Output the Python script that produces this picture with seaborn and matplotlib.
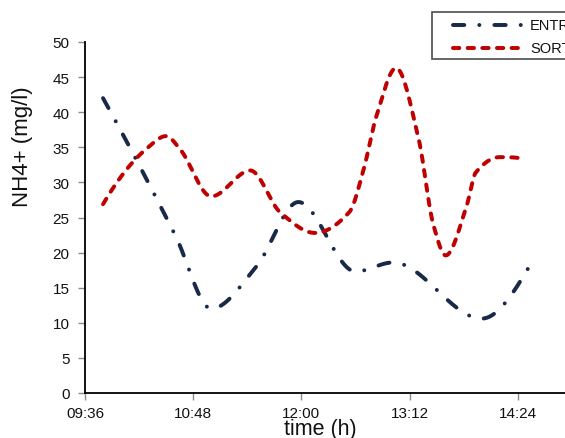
import numpy as np
import pandas as pd
import matplotlib
matplotlib.use("Agg")
import matplotlib.pyplot as plt
import seaborn as sns
from matplotlib.lines import Line2D
from matplotlib.patches import Rectangle
from matplotlib.ticker import FuncFormatter, FixedLocator

# ---- data (time of day, NH4+ mg/l) ----
entree_times = ["09:48", "10:36", "11:00", "11:30", "11:58", "12:36", "13:01", "14:00", "14:31"]
entree_values = [42.0, 22.5, 12.0, 18.0, 27.2, 17.3, 18.6, 10.6, 17.8]

sortie_times = ["09:48", "10:17", "10:30", "10:39", "11:00", "11:26", "11:46", "12:09",
                "12:32", "12:41", "12:50", "13:03", "13:18", "13:28", "13:36", "13:50",
                "13:56", "14:12", "14:29"]
sortie_values = [26.9, 34.8, 36.6, 34.8, 28.0, 31.7, 25.7, 22.8,
                 25.8, 31.5, 39.5, 46.3, 36.2, 23.8, 19.6, 26.7,
                 31.4, 33.6, 33.3]

tick_labels = ["09:36", "10:48", "12:00", "13:12", "14:24", "15:36"]
series_names = ["ENTREE", "SORTIE"]
y_ticks = list(range(0, 51, 5))


def to_min(s):
    h, m = s.split(":")
    return int(h) * 60 + int(m)


def pchip(x, y, xs):
    """Monotone cubic (smoothed line rendering)."""
    x = np.asarray(x, float); y = np.asarray(y, float)
    h = np.diff(x); d = np.diff(y) / h
    n = len(x); m = np.zeros(n)
    for k in range(1, n - 1):
        if d[k - 1] * d[k] > 0:
            w1 = 2 * h[k] + h[k - 1]; w2 = h[k] + 2 * h[k - 1]
            m[k] = (w1 + w2) / (w1 / d[k - 1] + w2 / d[k])

    def endp(h0, h1, d0, d1):
        v = ((2 * h0 + h1) * d0 - h0 * d1) / (h0 + h1)
        if np.sign(v) != np.sign(d0):
            v = 0.0
        elif np.sign(d0) != np.sign(d1) and abs(v) > abs(3 * d0):
            v = 3 * d0
        return v
    m[0] = endp(h[0], h[1], d[0], d[1])
    m[-1] = endp(h[-1], h[-2], d[-1], d[-2])
    idx = np.clip(np.searchsorted(x, xs) - 1, 0, n - 2)
    t = (xs - x[idx]) / h[idx]
    h00 = 2 * t**3 - 3 * t**2 + 1; h10 = t**3 - 2 * t**2 + t
    h01 = -2 * t**3 + 3 * t**2; h11 = t**3 - t**2
    return h00 * y[idx] + h10 * h[idx] * m[idx] + h01 * y[idx + 1] + h11 * h[idx] * m[idx + 1]


frames = []
for name, times, vals in [("ENTREE", entree_times, entree_values),
                          ("SORTIE", sortie_times, sortie_values)]:
    tx = np.array([to_min(t) for t in times], float)
    xs = np.linspace(tx[0], tx[-1], 600)
    frames.append(pd.DataFrame({"t": xs, "v": pchip(tx, vals, xs), "serie": name}))
df = pd.concat(frames, ignore_index=True)

sns.set_theme(style="white")
plt.rcParams["font.family"] = ["Liberation Sans", "DejaVu Sans"]

W, H = 565, 439
fig = plt.figure(figsize=(W / 100, H / 100), dpi=100)
ax = fig.add_axes([85 / W, 45 / H, 541 / W, 351 / H])

blue = "#182A48"
red = "#C00000"
LW = 2.85
styles = {"ENTREE": (blue, (2.85, 3.8, 0.01, 3.8)), "SORTIE": (red, (1.6, 2.1))}

for name in series_names:
    sub = df[df["serie"] == name]
    col, dash = styles[name]
    sns.lineplot(data=sub, x="t", y="v", ax=ax, color=col, linewidth=LW,
                 estimator=None, sort=False, legend=False)
    ln = ax.lines[-1]
    ln.set_dashes(dash)
    ln.set_dash_capstyle("round")
    ln.set_solid_capstyle("round")

ax.set_xlim(to_min("09:36"), to_min("15:36"))
ax.set_ylim(0, 50)
ax.xaxis.set_major_locator(FixedLocator([to_min(t) for t in tick_labels]))
ax.xaxis.set_major_formatter(FuncFormatter(lambda v, p: "%02d:%02d" % divmod(int(round(v)), 60)))
ax.set_yticks(y_ticks)

for side in ["top", "right"]:
    ax.spines[side].set_visible(False)
for side in ["left", "bottom"]:
    ax.spines[side].set_color("black")
    ax.spines[side].set_linewidth(1.3)

ax.tick_params(axis="both", which="major", direction="out", length=5, width=1,
               color="#8c8c8c", labelsize=11, labelcolor="#111111")
ax.tick_params(axis="y", pad=6)
ax.tick_params(axis="x", pad=4.5)
ax.tick_params(left=True, bottom=True)

ax.set_ylabel("NH4+ (mg/l)", fontsize=16, color="#111111")
ax.yaxis.set_label_coords(-0.096, 0.705)
ax.set_xlabel("time (h)", fontsize=15.5, color="#111111")
ax.xaxis.set_label_coords(0.435, -0.072)

# legend box (clipped at right edge, as in reference)
fig.add_artist(Rectangle((432 / W, 1 - 60 / H), (640 - 432) / W, 47 / H,
                         transform=fig.transFigure, facecolor="white",
                         edgecolor="#4d4d4d", linewidth=1.2, zorder=5))
for name, ypx in [("ENTREE", 26), ("SORTIE", 49)]:
    col, dash = styles[name]
    l = Line2D([453 / W, 522 / W], [1 - ypx / H, 1 - ypx / H], transform=fig.transFigure,
               color=col, linewidth=LW, zorder=6)
    l.set_dashes(dash)
    l.set_dash_capstyle("round")
    fig.add_artist(l)
    fig.text(530 / W, 1 - ypx / H, name, fontsize=10.5, va="center", ha="left",
             color="#111111", zorder=6)

fig.savefig("out.png", dpi=100)
